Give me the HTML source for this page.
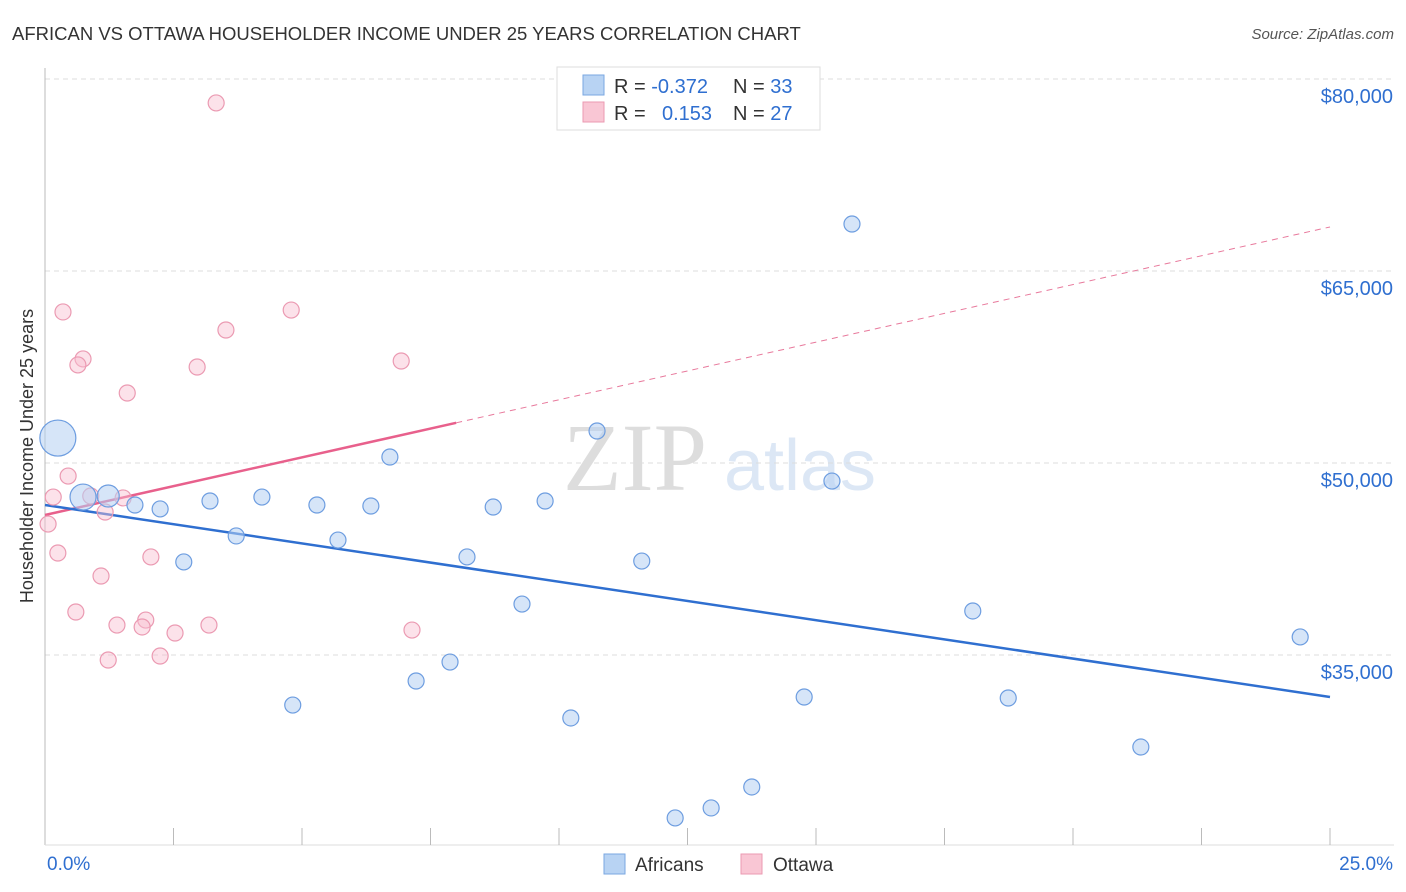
<!DOCTYPE html>
<html><head><meta charset="utf-8"><style>
body{margin:0;background:#fff;font-family:"Liberation Sans",sans-serif}
svg{display:block}
</style></head><body>
<svg id="c" width="1406" height="892" xmlns="http://www.w3.org/2000/svg">
<text x="12" y="40" font-size="18.5" fill="#333">AFRICAN VS OTTAWA HOUSEHOLDER INCOME UNDER 25 YEARS CORRELATION CHART</text>
<text x="1394" y="39" font-size="15" fill="#555" font-style="italic" text-anchor="end">Source: ZipAtlas.com</text>
<text x="33" y="456" font-size="18" fill="#333" text-anchor="middle" transform="rotate(-90 33 456)">Householder Income Under 25 years</text>
<text x="635" y="490" font-size="96" fill="#cfcfcf" font-family="Liberation Serif,serif" text-anchor="middle" opacity="0.7">ZIP</text>
<text x="800" y="490" font-size="72" fill="#c5d8f0" text-anchor="middle" opacity="0.6">atlas</text>
<g id="grid"></g><g id="axes"></g><g id="trend"></g><g id="pts"></g>
<g>
<rect x="557" y="67" width="263" height="63" fill="#fff" stroke="#ddd"/>
<rect x="583" y="75" width="21" height="20" fill="#b8d3f3" stroke="#7aa7e2"/>
<rect x="583" y="102" width="21" height="20" fill="#f9c6d4" stroke="#eb9ab2"/>
<text x="614" y="93" font-size="20" fill="#333">R = <tspan fill="#2f6fd0">-0.372</tspan></text>
<text x="733" y="93" font-size="20" fill="#333">N = <tspan fill="#2f6fd0">33</tspan></text>
<text x="614" y="120" font-size="20" fill="#333">R = <tspan fill="#2f6fd0" x="662">0.153</tspan></text>
<text x="733" y="120" font-size="20" fill="#333">N = <tspan fill="#2f6fd0">27</tspan></text>
</g>
<g>
<rect x="604" y="854" width="21" height="20" fill="#b8d3f3" stroke="#7aa7e2"/>
<text x="635" y="871" font-size="19" fill="#333">Africans</text>
<rect x="741" y="854" width="21" height="20" fill="#f9c6d4" stroke="#eb9ab2"/>
<text x="773" y="871" font-size="19" fill="#333">Ottawa</text>
</g>
</svg>
<script>
const yTicks=[80000,65000,50000,35000];
const yTickLabels=["$80,000","$65,000","$50,000","$35,000"];
const xTickLabels=["0.0%","25.0%"];
const blueX=[0.25,0.74,1.23,1.75,2.24,2.70,3.21,3.72,4.22,4.82,5.29,5.70,6.34,6.71,7.22,7.88,8.21,8.72,9.28,9.73,10.23,10.74,11.61,12.26,12.96,13.75,14.77,15.31,15.70,18.05,18.74,21.32,24.42];
const blueY=[51950,47340,47420,46720,46410,42270,47030,44300,47340,31090,46720,43980,46640,50470,32970,34450,42660,46560,38980,47030,30080,52500,42340,22270,23050,24690,31720,48590,68670,38440,31640,27810,36410];
const blueR=[18,13,11,8,8,8,8,8,8,8,8,8,8,8,8,8,8,8,8,8,8,8,8,8,8,8,8,8,8,8,8,8,8];
const pinkX=[0.35,0.74,0.64,1.60,3.52,4.79,2.96,0.45,0.16,0.89,1.52,1.17,0.06,0.25,2.06,1.09,0.60,1.40,1.96,1.89,2.53,3.19,1.23,2.24,3.33,6.93,7.14];
const pinkY=[61800,58130,57660,55470,60390,61950,57500,48980,47340,47420,47270,46170,45230,42970,42660,41170,38360,37340,37730,37190,36720,37340,34610,34920,78130,57970,36950];
const blueTrend=[46720,31720];
const pinkTrend=[45940,68440];
const pinkSolidEnd=8.0;
const NS="http://www.w3.org/2000/svg";
const X=v=>45+v/25*1285;
const Y=v=>79+(80000-v)/1000*12.8;
function mk(p,t,a){const e=document.createElementNS(NS,t);for(const k in a)e.setAttribute(k,a[k]);document.getElementById(p).appendChild(e);return e;}
yTicks.forEach((t,i)=>{
 const l=mk('grid','line',{x1:45,x2:1394,y1:Y(t),y2:Y(t),stroke:'#ddd','stroke-dasharray':'5,4'});
 
 
 const tx=mk('grid','text',{x:1393,y:Y(t)+24,'font-size':20,fill:'#2f6fd0','text-anchor':'end'});
 tx.textContent=yTickLabels[i];
 
 
});
const ax=mk('axes','line',{x1:45,x2:45,y1:68,y2:845,stroke:'#bbb'});


const bx=mk('axes','line',{x1:45,x2:1394,y1:845,y2:845,stroke:'#ddd'});


for(let i=1;i<=10;i++){
 const t=mk('axes','line',{x1:X(i*2.5),x2:X(i*2.5),y1:828,y2:845,stroke:'#bbb'});
 
 
}
[[0,'start',47],[25,'end',1393]].forEach((d,i)=>{
 const t=mk('axes','text',{x:d[2],y:870,'font-size':19,fill:'#2f6fd0','text-anchor':d[1]});
 t.textContent=xTickLabels[i];
 
 
});
const pAt=x=>pinkTrend[0]+(pinkTrend[1]-pinkTrend[0])*x/25;
const pd=mk('trend','line',{x1:X(pinkSolidEnd),y1:Y(pAt(pinkSolidEnd)),x2:X(25),y2:Y(pinkTrend[1]),stroke:'#e8799c','stroke-width':1,'stroke-dasharray':'6,5'});


const ps=mk('trend','line',{x1:X(0),y1:Y(pinkTrend[0]),x2:X(pinkSolidEnd),y2:Y(pAt(pinkSolidEnd)),stroke:'#e8608c','stroke-width':2.5});


const bl=mk('trend','line',{x1:X(0),y1:Y(blueTrend[0]),x2:X(25),y2:Y(blueTrend[1]),stroke:'#2f6fd0','stroke-width':2.5});


pinkX.forEach((x,i)=>{
 const c=mk('pts','circle',{cx:X(x),cy:Y(pinkY[i]),r:8,fill:'rgba(249,190,208,0.45)',stroke:'#eb9ab2','stroke-width':1.2});
 
 
});
blueX.forEach((x,i)=>{
 const c=mk('pts','circle',{cx:X(x),cy:Y(blueY[i]),r:blueR[i],fill:'rgba(180,208,242,0.55)',stroke:'#6d9de0','stroke-width':1.2});
 
 
});
</script>
</body></html>
